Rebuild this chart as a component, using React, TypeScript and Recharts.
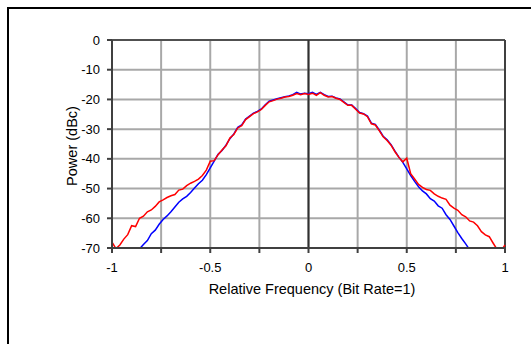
import React from 'react';
import {
  LineChart,
  Line,
  XAxis,
  YAxis,
  CartesianGrid,
  ReferenceLine,
  Label
} from 'recharts';

// frequency grid, step 0.02 from -1 to 1
const freq = Array.from({ length: 101 }, (_, i) => Math.round((-1 + i * 0.02) * 100) / 100);

const redPower = [
  -68.0, -70.2, -69.0, -67.0, -65.5, -62.5, -62.8, -60.0, -59.3, -57.8,
  -57.2, -56.0, -54.5, -53.8, -53.0, -52.4, -52.0, -50.5, -50.2, -49.0,
  -48.2, -47.6, -46.8, -45.6, -43.8, -40.8, -40.6, -38.6, -37.0, -35.6,
  -33.0, -31.8, -29.6, -28.8, -26.8, -25.8, -24.8, -24.2, -23.4, -22.0,
  -20.8, -20.4, -19.9, -19.6, -19.2, -19.0, -18.6, -18.0, -18.4, -18.0,
  -18.3,
  -17.9, -18.6, -17.7, -18.6, -19.2, -19.0, -19.6, -20.0, -21.0, -22.0,
  -22.0, -23.3, -24.6, -24.9, -25.8, -28.2, -28.6, -30.5, -32.6, -33.8,
  -35.4, -37.6, -39.5, -41.0, -39.8, -45.0, -46.8, -48.6, -49.6, -50.3,
  -50.6, -51.8, -52.6, -53.2, -53.6, -55.6, -56.6, -57.3, -58.8, -59.5,
  -60.9, -61.3, -62.5, -64.5, -65.6, -66.2, -68.4, -70.5, -71.0, -69.0
];

const bluePower = [
  -81.0, -79.5, -78.0, -76.5, -75.0, -73.5, -72.0, -70.3, -68.8, -67.5,
  -65.2, -64.0, -62.0, -60.4, -59.2, -57.8, -56.2, -54.6, -53.5, -52.6,
  -51.3, -49.8, -48.4, -47.2, -45.3, -43.0, -40.8, -38.4, -37.2, -35.4,
  -33.2, -31.6, -29.4, -28.6, -26.6, -25.6, -24.6, -24.0, -23.2, -21.8,
  -20.6, -20.2, -19.8, -19.4, -19.1, -18.8, -18.4, -17.6, -18.2, -17.9,
  -18.1,
  -17.6, -18.3, -17.6, -18.4, -19.0, -18.9, -19.5, -19.8, -20.8, -21.8,
  -21.9, -23.1, -24.4, -24.8, -25.6, -28.0, -28.4, -30.3, -32.4, -33.6,
  -35.2, -37.4, -39.4, -41.2, -43.4, -45.6, -47.6, -49.4, -50.8, -51.8,
  -53.4, -54.2, -55.8, -56.6, -58.8, -60.4, -62.6, -64.8, -66.8, -68.6,
  -70.6, -72.4, -74.0, -75.6, -77.0, -78.6, -80.0, -81.5, -83.0, -84.5
];

const xTicks = [-1, -0.75, -0.5, -0.25, 0, 0.25, 0.5, 0.75, 1];
const yTicks = [-70, -60, -50, -40, -30, -20, -10, 0];

const data = freq.map((f, i) => ({ f, red: redPower[i], blue: bluePower[i] }));

const font = '"Liberation Sans", Arial, sans-serif';
const tickStyle = { fontSize: 13, fill: '#000', fontFamily: font };

const xLabel = (v: number) => (Math.abs(v * 2 - Math.round(v * 2)) < 1e-9 ? String(v) : '');

export default function App() {
  return (
    <div style={{ position: 'absolute', left: 0, top: 0, width: 531, height: 344 }}>
      <div
        style={{
          position: 'absolute',
          left: 7,
          top: 7,
          width: 524,
          height: 337,
          boxSizing: 'border-box',
          borderTop: '2px solid #000',
          borderLeft: '2px solid #000'
        }}
      />
      <LineChart
        width={531}
        height={344}
        data={data}
        margin={{ top: 40, right: 26, bottom: 0, left: 0 }}
        style={{ position: 'absolute', left: 0, top: 0 }}
      >
        <CartesianGrid stroke="#a8a8a8" strokeWidth={2} horizontalValues={yTicks} verticalValues={xTicks} />
        <XAxis
          type="number"
          dataKey="f"
          domain={[-1, 1]}
          ticks={xTicks}
          tickFormatter={xLabel}
          height={96}
          tickSize={5}
          tickMargin={10}
          tick={tickStyle}
          stroke="#404040"
          strokeWidth={2}
          interval={0}
        >
          <Label
            content={() => (
              <text x={312} y={294} textAnchor="middle" fontSize={14.5} fontFamily={font} fill="#000">
                Relative Frequency (Bit Rate=1)
              </text>
            )}
          />
        </XAxis>
        <YAxis
          type="number"
          domain={[-70, 0]}
          ticks={yTicks}
          allowDataOverflow
          width={112}
          tickSize={5}
          tickMargin={7}
          tick={tickStyle}
          stroke="#404040"
          strokeWidth={2}
          interval={0}
        >
          <Label
            content={() => (
              <text
                x={72}
                y={146}
                textAnchor="middle"
                dominantBaseline="central"
                transform="rotate(-90, 72, 146)"
                fontSize={14.5}
                fontFamily={font}
                fill="#000"
              >
                Power (dBc)
              </text>
            )}
          />
        </YAxis>
        <ReferenceLine y={0} stroke="#505050" strokeWidth={2} />
        <ReferenceLine x={1} stroke="#404040" strokeWidth={2} />
        <ReferenceLine x={0} stroke="#303030" strokeWidth={2} />
        <Line type="linear" dataKey="blue" stroke="#0000ff" strokeWidth={1.5} dot={false} isAnimationActive={false} />
        <Line type="linear" dataKey="red" stroke="#ff0000" strokeWidth={1.5} dot={false} isAnimationActive={false} />
      </LineChart>
    </div>
  );
}
